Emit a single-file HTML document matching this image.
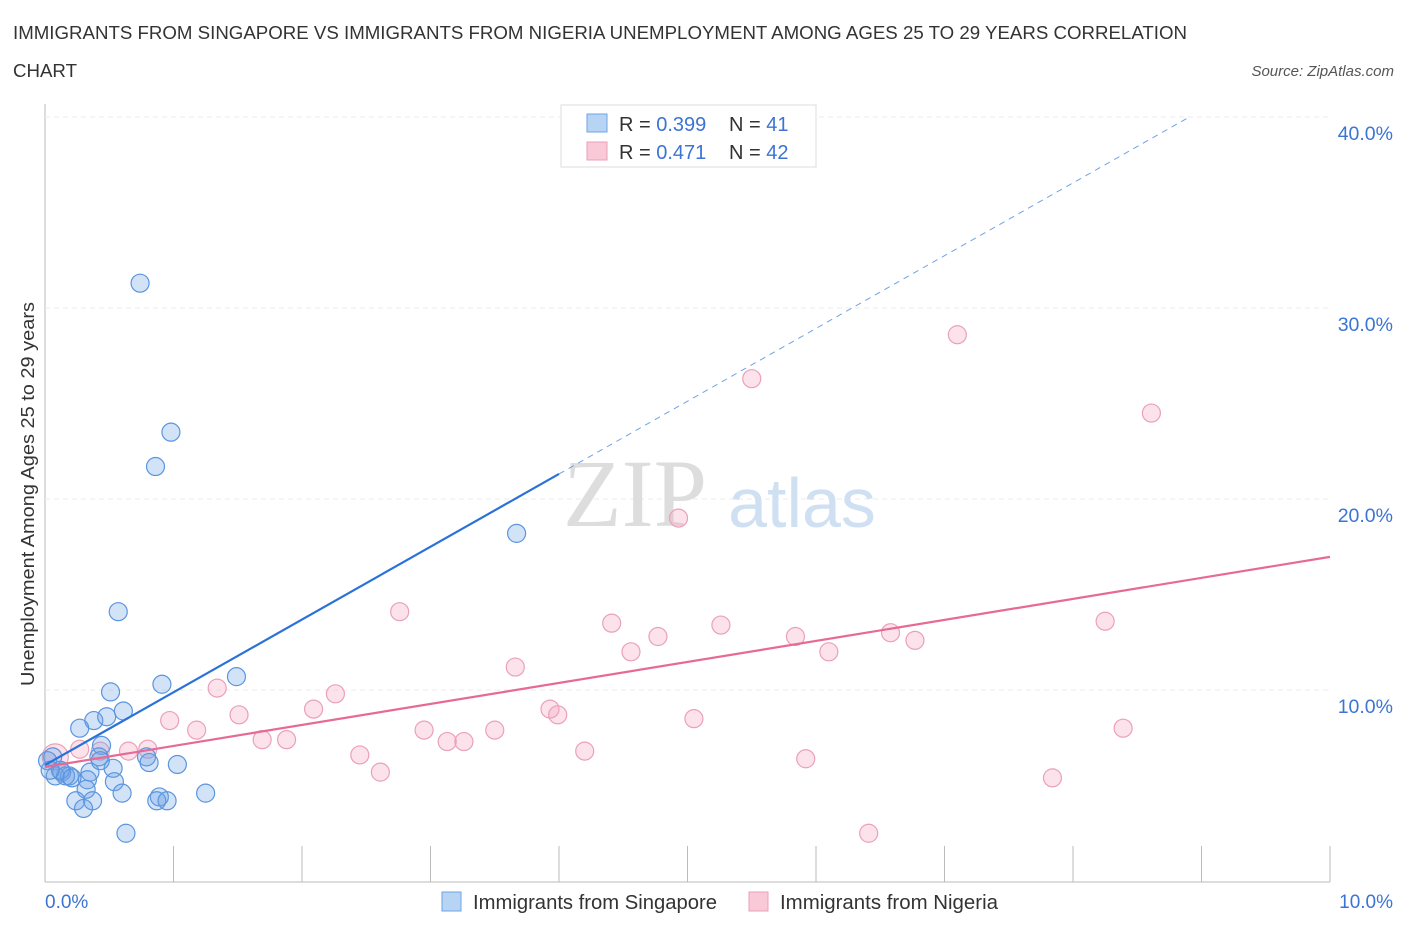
<!DOCTYPE html>
<html><head><meta charset="utf-8"><style>
body{margin:0;background:#fff;font-family:"Liberation Sans",sans-serif;}
svg{display:block}
</style></head><body>
<svg width="1406" height="930" xmlns="http://www.w3.org/2000/svg">
<text x="13" y="39" font-size="18" fill="#333" textLength="1174" lengthAdjust="spacingAndGlyphs">IMMIGRANTS FROM SINGAPORE VS IMMIGRANTS FROM NIGERIA UNEMPLOYMENT AMONG AGES 25 TO 29 YEARS CORRELATION</text>
<text x="13" y="77" font-size="18" fill="#333" textLength="64" lengthAdjust="spacingAndGlyphs">CHART</text>
<text x="1394" y="76" font-size="15" fill="#555" font-style="italic" text-anchor="end">Source: ZipAtlas.com</text>
<g id="grid"></g>
<text x="635" y="526" font-size="96" fill="#ddd" font-family="Liberation Serif,serif" text-anchor="middle">ZIP</text>
<text x="802" y="527" font-size="70" fill="#cfe0f3" text-anchor="middle">atlas</text>
<g id="pts"></g>
<g id="lines"></g>
<text x="34" y="494" font-size="18" fill="#333" text-anchor="middle" textLength="384" lengthAdjust="spacingAndGlyphs" transform="rotate(-90 34 494)">Unemployment Among Ages 25 to 29 years</text>
<g>
<rect x="561" y="105" width="255" height="62" fill="#fff" stroke="#ddd"/>
<rect x="587" y="114" width="20" height="18" fill="#b8d4f5" stroke="#6ea3e6"/>
<rect x="587" y="142" width="20" height="18" fill="#f9c9d8" stroke="#eba0b9"/>
<text x="619" y="131" font-size="20" fill="#333">R = <tspan fill="#3b74d4">0.399</tspan></text>
<text x="729" y="131" font-size="20" fill="#333">N = <tspan fill="#3b74d4"> 41</tspan></text>
<text x="619" y="159" font-size="20" fill="#333">R = <tspan fill="#3b74d4"> 0.471</tspan></text>
<text x="729" y="159" font-size="20" fill="#333">N = <tspan fill="#3b74d4">42</tspan></text>
</g>
<g>
<rect x="442" y="892" width="19" height="19" fill="#b8d4f5" stroke="#6ea3e6"/>
<text x="473" y="909" font-size="20" fill="#333" textLength="244" lengthAdjust="spacingAndGlyphs">Immigrants from Singapore</text>
<rect x="749" y="892" width="19" height="19" fill="#f9c9d8" stroke="#eba0b9"/>
<text x="780" y="909" font-size="20" fill="#333" textLength="218" lengthAdjust="spacingAndGlyphs">Immigrants from Nigeria</text>
</g>
</svg>
<script>
const xTicks=[0,1,2,3,4,5,6,7,8,9,10];
const yTicks=[10,20,30,40];
const yTickLabels=["10.0%","20.0%","30.0%","40.0%"];
const xEndLabels=["0.0%","10.0%"];
const sgX=[0.74,0.98,0.86,0.57,3.67,1.49,0.91,0.51,0.61,0.38,0.48,0.27,0.44,0.42,0.79,0.81,0.53,1.03,0.06,0.02,0.08,0.13,0.19,0.16,0.35,0.33,0.54,0.32,0.60,1.25,0.24,0.37,0.89,0.87,0.95,0.30,0.63,0.12,0.04,0.21,0.43];
const sgY=[31.3,23.5,21.7,14.1,18.2,10.7,10.3,9.9,8.9,8.4,8.6,8.0,7.1,6.5,6.5,6.2,5.9,6.1,6.5,6.3,5.5,5.7,5.5,5.5,5.7,5.3,5.2,4.8,4.6,4.6,4.2,4.2,4.4,4.2,4.2,3.8,2.5,5.8,5.8,5.4,6.3];
const ngX=[7.10,5.50,8.61,4.93,2.76,4.41,5.26,4.77,8.25,5.84,6.58,4.56,6.10,6.77,3.66,2.26,1.34,2.09,3.93,3.99,0.97,1.51,5.05,1.18,2.95,3.50,8.39,1.69,1.88,3.13,3.26,2.45,4.20,0.80,0.65,5.92,2.61,7.84,6.41,0.08,0.27,0.43];
const ngY=[28.6,26.3,24.5,19.0,14.1,13.5,13.4,12.8,13.6,12.8,13.0,12.0,12.0,12.6,11.2,9.8,10.1,9.0,9.0,8.7,8.4,8.7,8.5,7.9,7.9,7.9,8.0,7.4,7.4,7.3,7.3,6.6,6.8,6.9,6.8,6.4,5.7,5.4,2.5,6.5,6.9,6.8];
const sgLine=[6.07,3.81]; // intercept, slope
const ngLine=[5.97,1.10];
const NS="http://www.w3.org/2000/svg";
const X=v=>45+v*128.5, Y=v=>881-v*19.1;
function mk(tag,attrs,parent){const e=document.createElementNS(NS,tag);for(const k in attrs)e.setAttribute(k,attrs[k]);parent.appendChild(e);return e;}
const grid=document.getElementById('grid');
mk('line',{x1:45,y1:104,x2:45,y2:882,stroke:'#bbb'},grid);
mk('line',{x1:45,y1:882,x2:1330,y2:882,stroke:'#bbb'},grid);
xTicks.forEach(t=>{const l=mk('line',{x1:X(t),y1:846,x2:X(t),y2:882,stroke:'#bbb'},grid);

});
yTicks.forEach((t,i)=>{const l=mk('line',{x1:45,y1:Y(t),x2:1330,y2:Y(t),stroke:'#ebebeb','stroke-dasharray':'5,4'},grid);


const tx=mk('text',{x:1393,y:Y(t)+23,'font-size':19.5,fill:'#3b74d4','text-anchor':'end'},grid);tx.textContent=yTickLabels[i];

});
const a=mk('text',{x:45,y:908,'font-size':19,fill:'#3b74d4'},grid);a.textContent=xEndLabels[0];


const b=mk('text',{x:1393,y:908,'font-size':19,fill:'#3b74d4','text-anchor':'end'},grid);b.textContent=xEndLabels[1];


const pts=document.getElementById('pts');
ngX.forEach((v,i)=>{const c=mk('circle',{cx:X(v),cy:Y(ngY[i]),r:i==39?13:9,fill:'rgba(244,160,190,0.3)',stroke:'#eba0b9','stroke-width':1.2},pts);

});
sgX.forEach((v,i)=>{const c=mk('circle',{cx:X(v),cy:Y(sgY[i]),r:9,fill:'rgba(110,163,230,0.3)',stroke:'#5a95df','stroke-width':1.2},pts);

});
const ln=document.getElementById('lines');
const sx1=4.0, sx2=(40-sgLine[0])/sgLine[1];
let l1=mk('line',{x1:X(0),y1:Y(sgLine[0]),x2:X(sx1),y2:Y(sgLine[0]+sgLine[1]*sx1),stroke:'#2a72d8','stroke-width':2.2},ln);


let l2=mk('line',{x1:X(sx1),y1:Y(sgLine[0]+sgLine[1]*sx1),x2:X(sx2),y2:Y(40),stroke:'#6ea3e6','stroke-width':1,'stroke-dasharray':'6,5'},ln);


let l3=mk('line',{x1:X(0),y1:Y(ngLine[0]),x2:X(10),y2:Y(ngLine[0]+ngLine[1]*10),stroke:'#e66a95','stroke-width':2.2},ln);


</script>
</body></html>
